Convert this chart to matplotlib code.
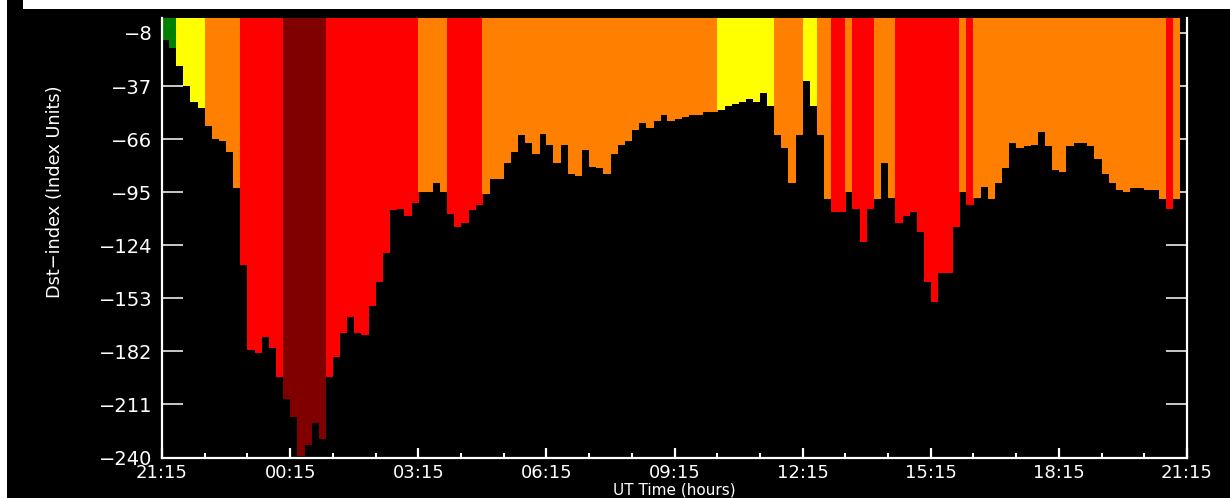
import numpy as np
import matplotlib
matplotlib.use('Agg')
import matplotlib.pyplot as plt
from matplotlib.patches import Rectangle
from matplotlib.ticker import MultipleLocator

# 10-minute Dst values, starting 21:15 UT
dst = [-12, -16, -26, -37, -46, -49, -59, -66, -67, -73,
       -93, -135, -181, -183, -174, -180, -196, -208, -218, -239,
       -233, -221, -230, -196, -185, -172, -163, -172, -173, -157,
       -144, -128, -105, -104, -108, -101, -95, -95, -90, -95,
       -107, -114, -112, -105, -102, -96, -88, -88, -79, -73,
       -64, -68, -74, -63, -69, -79, -69, -85, -86, -72,
       -81, -82, -85, -74, -69, -67, -61, -57, -60, -56,
       -53, -56, -55, -54, -53, -53, -51, -51, -50, -48,
       -47, -46, -44, -46, -41, -48, -64, -71, -90, -64,
       -34, -48, -64, -99, -106, -106, -95, -104, -122, -104,
       -99, -79, -98, -112, -108, -106, -117, -144, -155, -139,
       -139, -114, -95, -102, -98, -92, -99, -90, -82, -68,
       -71, -70, -69, -62, -70, -83, -84, -70, -68, -68,
       -70, -77, -85, -90, -94, -95, -93, -93, -94, -94,
       -99, -104, -99]
step_hours = 10 / 60
x_tick_labels = ['21:15', '00:15', '03:15', '06:15', '09:15',
                 '12:15', '15:15', '18:15', '21:15']
y_ticks = [-8, -37, -66, -95, -124, -153, -182, -211, -240]


def level_color(v):
    if v > -20:
        return '#008000'
    if v >= -50:
        return '#ffff00'
    if v >= -100:
        return '#ff8000'
    if v >= -200:
        return '#ff0000'
    return '#800000'


fig = plt.figure(figsize=(12.3, 4.98), dpi=100, facecolor='black')
W, H = 1230, 498

# white page edges around the plot
fig.patches.append(Rectangle((0, 0), 7 / W, 1, transform=fig.transFigure,
                             facecolor='white', edgecolor='none'))
fig.patches.append(Rectangle((23 / W, 1 - 9 / H), 1, 9 / H,
                             transform=fig.transFigure,
                             facecolor='white', edgecolor='none'))

ax = fig.add_axes([162 / W, 40.5 / H, 1025 / W, 439.2 / H])
ax.set_facecolor('black')
ax.set_axisbelow(True)

t = np.arange(len(dst)) * step_hours
# slightly overlapping bars so no seams show between neighbours
widths = [step_hours * 1.06] * (len(dst) - 1) + [step_hours]
ax.bar(t, dst, width=widths, align='edge',
       color=[level_color(v) for v in dst], linewidth=0, antialiased=False)

ax.set_xlim(0, 24)
ax.set_ylim(-240, 0)

ax.set_xticks(np.arange(0, 25, 3))
ax.set_xticklabels(x_tick_labels)
ax.xaxis.set_minor_locator(MultipleLocator(1))
ax.set_yticks(y_ticks)
ax.set_yticklabels([str(v).replace('-', '\u2212') for v in y_ticks])

ax.tick_params(axis='x', which='major', direction='in', length=7.5,
               width=1.6, color='white', labelcolor='white',
               labelsize=13, pad=4.5)
ax.tick_params(axis='x', which='minor', direction='in', length=3.8,
               width=1.4, color='white')
ax.tick_params(axis='y', which='major', direction='in', length=15,
               width=1.1, color='white', labelcolor='white',
               labelsize=14, left=True, right=True, pad=7)

for side in ['left', 'bottom', 'right']:
    ax.spines[side].set_color('white')
    ax.spines[side].set_linewidth(1.6)
ax.spines['top'].set_visible(False)

ax.set_ylabel('Dst\u2212index (Index Units)', color='white', fontsize=12.8)
ax.yaxis.set_label_coords(-0.096, 0.605)
ax.set_xlabel('UT Time (hours)', color='white', fontsize=11)
ax.xaxis.set_label_coords(0.5, -0.0575)

fig.savefig('out.png', dpi=100, facecolor='black')
